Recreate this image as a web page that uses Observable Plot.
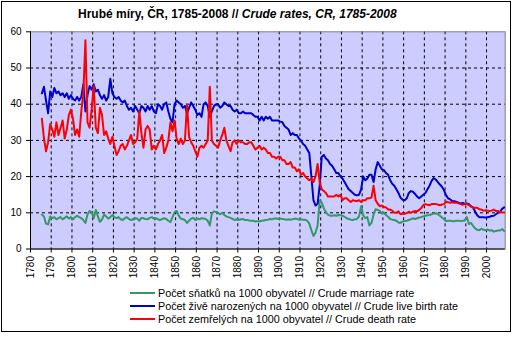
<!DOCTYPE html>
<html><head><meta charset="utf-8">
<script src="https://cdn.jsdelivr.net/npm/d3@7"></script>
<script src="https://cdn.jsdelivr.net/npm/@observablehq/plot@0.6"></script>
<style>
body{margin:0;background:#fff;font-family:"Liberation Sans",Arial,sans-serif;color:#000}
#wrap{position:relative;width:516px;height:337px;overflow:hidden;background:#fff}
#chart{position:absolute;left:0;top:0}
#title{position:absolute;left:78px;top:7px;font-weight:bold;font-size:12px;line-height:14px;white-space:nowrap}
.lg{position:absolute;left:130px;height:14px;line-height:14px;font-size:10.8px;display:flex;align-items:center;white-space:nowrap}
.sw{display:inline-block;width:25px;height:2px;margin-right:3px}
#border{position:absolute;left:1px;top:1px;width:510px;height:331px;box-sizing:border-box;border:1px solid #000;pointer-events:none}
</style>
</head><body>
<div id="wrap">
  <div id="chart"></div>
  <div id="title">Hrubé míry, ČR, 1785-2008 // <i>Crude rates, CR, 1785-2008</i></div>
  <div id="legend"></div>
  <div id="border"></div>
</div>
<script>
const firstYear = 1785, lastYear = 2008;
const years = d3.range(firstYear, lastYear + 1);
const xTicks = [1780,1790,1800,1810,1820,1830,1840,1850,1860,1870,1880,1890,1900,1910,1920,1930,1940,1950,1960,1970,1980,1990,2000];
const yTicks = [0,10,20,30,40,50,60];
const seriesNames = [
  "Počet sňatků na 1000 obyvatel // Crude marriage rate",
  "Počet živě narozených na 1000 obyvatel // Crude live birth rate",
  "Počet zemřelých na 1000 obyvatel // Crude death rate"
];
const seriesColors = ["#339966", "#0000cc", "#ff0000"];

// Crude marriage rate, 1785-2008
const marriageRate = [
  9.5, 9.0, 7.0, 6.8, 9.0,
  8.5, 8.8, 8.2, 8.5, 8.8, 8.2, 8.6, 9.0, 8.4, 8.8,
  8.2, 8.8, 9.2, 8.8, 8.5, 8.0, 7.2, 9.5, 10.5, 10.2,
  8.5, 10.8, 9.0, 7.5, 8.2, 9.5, 9.0, 8.4, 8.8, 9.4,
  8.8, 8.5, 8.8, 8.2, 8.0, 8.5, 8.8, 8.3, 8.0, 8.2,
  8.5, 8.4, 7.8, 8.6, 8.5, 8.3, 8.2, 8.6, 8.8, 8.4,
  8.5, 8.2, 8.0, 8.3, 8.5, 8.3, 7.8, 7.4, 8.8, 10.2,
  10.5, 9.2, 8.4, 8.2, 8.0, 7.2, 7.8, 8.4, 8.6, 8.0,
  8.4, 8.2, 8.5, 8.4, 8.3, 7.8, 6.5, 9.8, 10.4, 10.2,
  10.0, 9.6, 10.0, 9.4, 9.0, 8.8, 8.6, 8.3, 8.0, 8.2,
  8.0, 8.2, 8.3, 8.0, 8.0, 7.9, 7.8, 7.8, 7.6, 7.7,
  7.6, 7.8, 7.9, 8.0, 8.1, 8.3, 8.2, 8.4, 8.4, 8.3,
  8.4, 8.3, 8.2, 8.1, 8.2, 8.1, 8.2, 8.4, 8.3, 8.1,
  8.2, 8.1, 8.1, 7.8, 7.0, 5.2, 3.6, 4.5, 6.5, 13.5,
  12.8, 11.2, 10.2, 9.5, 9.2, 9.2, 9.3, 9.2, 9.4, 9.3,
  9.2, 8.9, 8.5, 8.3, 8.1, 8.0, 8.2, 8.3, 9.0, 11.8,
  9.3, 8.5, 8.8, 6.5, 7.2, 9.5, 11.0, 10.8, 10.5, 9.8,
  10.0, 9.4, 8.9, 8.3, 8.1, 8.0, 7.8, 7.3, 7.2, 7.6,
  7.7, 7.8, 8.0, 8.2, 8.5, 8.3, 8.5, 8.7, 8.8, 9.0,
  9.2, 9.3, 9.4, 9.6, 9.8, 9.9, 9.6, 9.2, 8.7, 8.2,
  7.7, 7.8, 7.8, 7.7, 7.7, 7.8, 7.8, 7.7, 7.8, 7.9,
  8.8, 6.9, 7.2, 6.4, 5.7, 5.3, 5.2, 5.6, 5.3, 5.2,
  5.4, 5.1, 5.2, 4.8, 5.0, 5.1, 5.1, 5.5, 5.0
];

// Crude live birth rate, 1785-2008
const birthRate = [
  43.0, 44.8, 41.0, 37.5, 43.5,
  42.0, 44.5, 43.0, 43.5, 42.5, 43.0, 42.0, 43.0, 41.5, 42.5,
  41.5, 41.0, 42.0, 41.0, 42.0, 45.5, 38.0, 42.5, 45.0, 44.0,
  45.5, 43.5, 44.0, 42.5, 41.5, 42.5, 41.0, 42.0, 47.0, 43.0,
  42.0, 41.5, 42.0, 41.0, 40.5, 41.0, 39.5, 38.5, 39.0, 38.0,
  39.5, 38.5, 37.5, 39.5, 39.0, 38.0, 39.5, 38.5, 39.5, 38.0,
  37.5, 40.0, 39.5, 38.5, 40.0, 40.5, 38.0, 36.0, 35.0, 40.0,
  41.0, 40.5, 40.0, 39.0, 39.5, 37.5, 39.0, 40.5, 39.5, 38.5,
  37.0, 37.5, 36.5, 40.0, 40.5, 39.5, 36.5, 38.0, 39.5, 40.0,
  40.0, 39.0, 39.5, 40.5, 40.0, 39.5, 39.5, 38.5, 38.0, 38.5,
  37.5, 37.5, 38.0, 37.5, 37.5, 37.5, 37.5, 37.0, 36.5, 36.5,
  35.5, 36.5, 35.5, 36.5, 36.0, 36.5, 35.5, 35.5, 35.5, 35.5,
  35.2, 35.0, 34.0, 33.5, 33.0, 31.5, 32.0, 31.5, 31.5, 30.5,
  30.0, 29.0, 28.5, 27.5, 26.5, 20.0, 13.5, 12.0, 12.5, 17.5,
  25.5, 26.0, 25.0, 24.5, 23.5, 23.0, 22.0, 21.0, 21.0, 20.0,
  19.5, 18.5, 17.5, 16.5, 16.0, 15.5, 15.0, 14.8, 15.0, 16.5,
  20.0, 19.0, 19.5, 20.5, 20.5, 18.5, 22.0, 24.0, 23.0, 22.0,
  21.8, 21.0, 20.5, 19.0, 18.0, 17.5, 16.5, 15.5, 14.2, 13.6,
  13.5, 14.0, 15.5, 16.0, 15.8, 15.2, 14.5, 14.0, 14.5, 15.0,
  15.5, 16.5, 17.5, 18.8, 19.6, 19.2, 18.5, 17.8, 17.2, 16.2,
  14.8, 14.0, 13.7, 13.2, 13.2, 13.0, 12.8, 12.6, 12.7, 12.5,
  12.6, 12.4, 11.8, 11.5, 10.3, 9.3, 8.8, 8.8, 8.8, 8.7,
  8.8, 8.9, 9.1, 9.2, 9.6, 10.0, 10.3, 11.1, 11.5
];

// Crude death rate, 1785-2008
const deathRate = [
  36.0, 30.5, 27.0, 29.5, 34.5,
  33.0, 31.0, 35.0, 31.5, 33.5, 35.5, 30.5, 33.0, 37.0, 38.5,
  36.0, 31.5, 33.0, 31.0, 38.0, 43.0, 57.7, 35.0, 33.5, 38.5,
  45.0, 33.5, 32.0, 39.0, 37.0, 31.5, 32.5, 30.5, 29.0, 31.0,
  28.5, 26.0, 27.0, 28.5, 29.0, 27.5, 28.5, 30.0, 31.5, 29.0,
  29.5, 30.5, 38.0, 32.0, 28.0, 33.0, 34.0, 33.0, 27.5, 28.5,
  27.5, 29.0, 30.0, 31.5, 26.5, 28.0, 30.0, 35.0, 32.5, 35.5,
  30.5, 29.0, 30.5, 29.0, 30.0, 40.0, 31.0, 29.5, 28.5, 27.0,
  25.5, 28.0, 28.5, 28.0, 29.0, 30.0, 44.8, 30.0, 29.0, 28.5,
  28.0, 30.0, 31.5, 33.5, 30.0, 28.5, 27.0, 29.5, 30.0, 29.0,
  30.0, 29.5, 29.5, 29.0, 29.0, 29.5, 29.5, 28.5, 27.5, 28.0,
  28.5, 27.5, 28.0, 27.5, 26.5, 26.5, 25.5, 25.5, 25.0, 25.5,
  25.5, 24.5, 24.5, 23.5, 23.5, 24.0, 22.5, 22.5, 21.5, 22.0,
  20.5, 21.0, 20.0, 19.5, 19.0, 19.5, 18.5, 20.0, 23.5, 18.5,
  16.5, 16.0, 15.5, 14.5, 14.5, 14.5, 14.5, 15.0, 14.5, 15.0,
  13.5, 14.0, 14.0, 13.5, 13.0, 13.5, 13.3, 13.2, 13.5, 13.0,
  13.5, 13.5, 14.0, 14.0, 14.2, 17.5, 13.5, 12.5, 11.8, 12.0,
  11.5, 11.5, 10.9, 10.9, 10.6, 10.0, 10.0, 10.4, 9.6, 9.8,
  9.7, 9.9, 10.3, 10.0, 10.3, 10.5, 10.4, 10.8, 11.3, 12.1,
  12.4, 12.2, 12.1, 12.4, 12.4, 12.4, 12.3, 12.1, 12.3, 12.4,
  13.1, 12.9, 12.8, 12.9, 12.8, 12.8, 12.6, 12.4, 12.2, 12.4,
  12.5, 12.1, 11.7, 11.4, 11.4, 11.4, 11.0, 10.9, 10.6, 10.7,
  10.6, 10.5, 10.6, 10.9, 10.5, 10.5, 10.2, 10.1, 10.1
];

const seriesValues = [marriageRate, birthRate, deathRate];
const data = [];
seriesValues.forEach((vals, s) => {
  years.forEach((year, i) => data.push({series: seriesNames[s], year, value: vals[i]}));
});

const dash = "3,3";
const chart = Plot.plot({
  width: 516,
  height: 337,
  marginLeft: 30,
  marginRight: 11.3,
  marginTop: 31.3,
  marginBottom: 88.5,
  style: {fontFamily: "'Liberation Sans', Arial, sans-serif", fontSize: "10px", background: "transparent", color: "#000", overflow: "visible"},
  x: {domain: [1780, 2009], axis: null, label: null},
  y: {domain: [0, 60], axis: null, label: null},
  color: {domain: seriesNames, range: seriesColors},
  marks: [
    Plot.frame({fill: "#ccccff", stroke: null}),
    Plot.gridX(xTicks.slice(1), {stroke: "#000", strokeOpacity: 1, strokeDasharray: dash}),
    Plot.gridY(yTicks.slice(1, -1), {stroke: "#000", strokeOpacity: 1, strokeDasharray: dash}),
    Plot.frame({stroke: "#808080", strokeWidth: 1}),
    Plot.line(data, {x: d => d.year + 0.5, y: "value", z: "series", stroke: "series", strokeWidth: 2, strokeLinejoin: "round"}),
    Plot.ruleX([1780], {stroke: "#000"}),
    Plot.ruleY([0], {stroke: "#000"}),
    Plot.axisX(xTicks, {tickRotate: -90, tickSize: 4, tickPadding: 3, tickFormat: "d", label: null, stroke: "#000"}),
    Plot.axisY(yTicks, {tickSize: 4, tickPadding: 5, tickFormat: "d", label: null, stroke: "#000"})
  ]
});
document.getElementById("chart").appendChild(chart);

const legend = document.getElementById("legend");
const rowY = [293, 306, 319];
seriesNames.forEach((name, i) => {
  const row = document.createElement("div");
  row.className = "lg";
  row.style.top = (rowY[i] - 7) + "px";
  const sw = document.createElement("span");
  sw.className = "sw";
  sw.style.background = seriesColors[i];
  row.appendChild(sw);
  row.appendChild(document.createTextNode(name));
  legend.appendChild(row);
});
</script>
</body></html>
